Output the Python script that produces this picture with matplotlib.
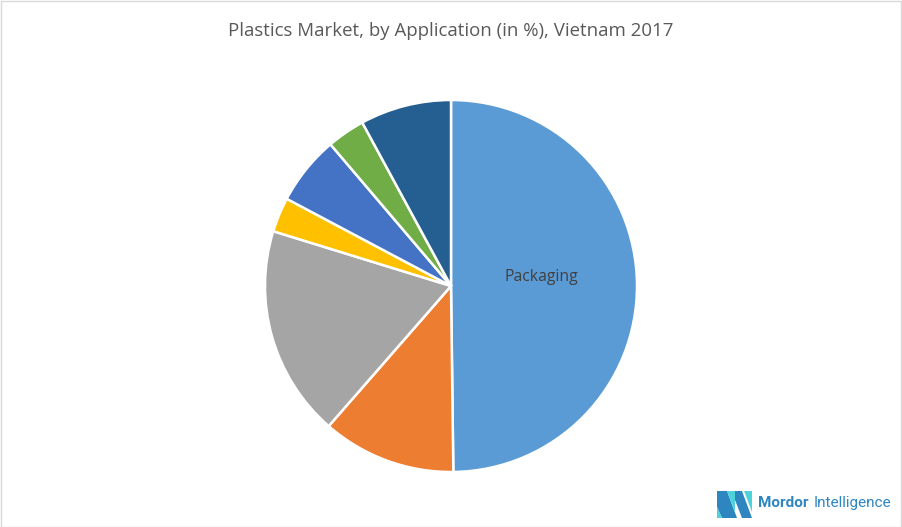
import matplotlib
matplotlib.use('Agg')
import matplotlib.pyplot as plt
from matplotlib.patches import Rectangle, Polygon
from matplotlib import font_manager

# data (clockwise from 12 o'clock)
segments = ['Packaging', 'Construction', 'Electrical & Electronics', 'Automotive',
            'Household', 'Agriculture', 'Others']
shares = [49.7, 11.6, 18.3, 3.0, 6.0, 3.3, 7.9]
colours = ['#5B9BD5', '#ED7D31', '#A5A5A5', '#FFC000', '#4472C4', '#70AD47', '#255E91']

title = 'Plastics Market, by Application (in %), Vietnam 2017'

W, H = 902, 527
fig = plt.figure(figsize=(W / 100, H / 100), dpi=100)
fig.patch.set_facecolor('white')

# pie centred at about (451, 286), radius 186 px
r = 186
cx, cy = 451, 286
ax = fig.add_axes([(cx - r) / W, (H - cy - r) / H, 2 * r / W, 2 * r / H])
wedges, _ = ax.pie(shares, colors=colours, startangle=90, counterclock=False,
                   wedgeprops=dict(edgecolor='white', linewidth=1.8))
ax.set_xlim(-1, 1)
ax.set_ylim(-1, 1)
ax.set_aspect('equal')
ax.axis('off')

# only the big slice carries a label
ax.text(0.485, 0.05, segments[0], ha='center', va='center', fontsize=11.3,
        color='#404040', family='Open Sans')

fig.text(451 / W, 1 - 31 / H, title, ha='center', va='center', fontsize=13.4,
         color='#595959', family='Open Sans')

# outer frame
fig.add_artist(Rectangle((0.5 / W, 0.5 / H), 1 - 1.5 / W, 1 - 1.5 / H,
                         transform=fig.transFigure, fill=False,
                         edgecolor='#D9D9D9', linewidth=1))

# Mordor Intelligence logo, bottom right
def fp(x, y):
    return (x / W, 1 - y / H)

logo = [
    ([fp(717, 491), fp(727, 491), fp(737, 518), fp(722, 518), fp(717, 507)], '#2E86C1'),
    ([fp(717, 507), fp(722, 518), fp(717, 518)], '#4FD1D9'),
    ([fp(727, 491), fp(735, 491), fp(735, 512)], '#4FD1D9'),
    ([fp(735, 491), fp(742, 491), fp(752, 518), fp(742, 518), fp(735, 500)], '#2E86C1'),
    ([fp(744, 491), fp(752, 491), fp(752, 512)], '#4FD1D9'),
]
for pts, c in logo:
    fig.add_artist(Polygon(pts, closed=True, transform=fig.transFigure,
                           facecolor=c, edgecolor='none'))

names = {f.name for f in font_manager.fontManager.ttflist}
narrow = 'Liberation Sans Narrow' if 'Liberation Sans Narrow' in names else 'Roboto'
fs = 13.5 if narrow == 'Liberation Sans Narrow' else 11
fig.text(758 / W, 1 - 503 / H, 'Mordor', ha='left', va='center', fontsize=fs,
         fontweight='bold', color='#2E86C1', family=narrow)
fig.text(814 / W, 1 - 503 / H, 'Intelligence', ha='left', va='center', fontsize=fs,
         color='#2E86C1', family=narrow)

fig.savefig('out.png', dpi=100, facecolor='white')
